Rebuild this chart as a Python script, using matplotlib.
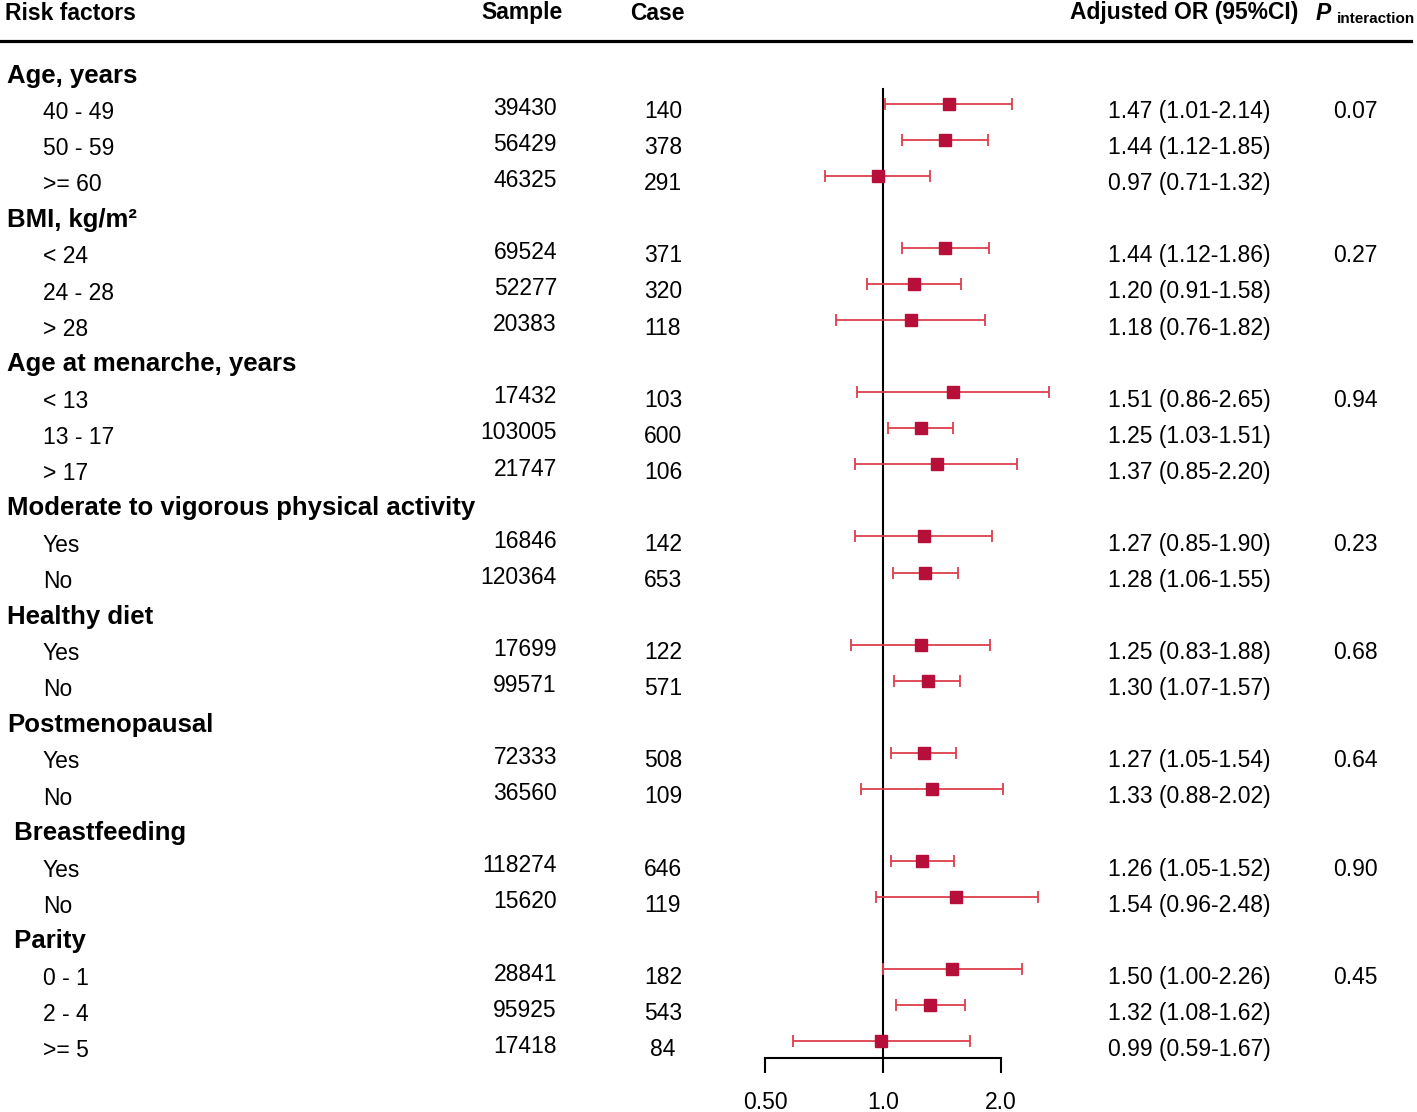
import matplotlib
matplotlib.use("Agg")
import matplotlib.pyplot as plt
from matplotlib.lines import Line2D
from matplotlib.ticker import NullLocator
from matplotlib.transforms import blended_transform_factory

plt.rcParams["font.family"] = ["Liberation Sans", "DejaVu Sans"]

# data
groups = ["Age, years", "BMI, kg/m\u00b2", "Age at menarche, years",
          "Moderate to vigorous physical activity", "Healthy diet",
          "Postmenopausal", " Breastfeeding", " Parity"]
group_sizes = [3, 3, 3, 2, 2, 2, 2, 3]
p_interaction = ["0.07", "0.27", "0.94", "0.23", "0.68", "0.64", "0.90", "0.45"]

sub_labels = ["40 - 49", "50 - 59", ">= 60",
              "< 24", "24 - 28", "> 28",
              "< 13", "13 - 17", "> 17",
              "Yes", "No",
              "Yes", "No",
              "Yes", "No",
              "Yes", "No",
              "0 - 1", "2 - 4", ">= 5"]
samples = [39430, 56429, 46325, 69524, 52277, 20383, 17432, 103005, 21747,
           16846, 120364, 17699, 99571, 72333, 36560, 118274, 15620,
           28841, 95925, 17418]
cases = [140, 378, 291, 371, 320, 118, 103, 600, 106, 142, 653, 122, 571,
         508, 109, 646, 119, 182, 543, 84]
or_est = [1.47, 1.44, 0.97, 1.44, 1.20, 1.18, 1.51, 1.25, 1.37, 1.27, 1.28,
          1.25, 1.30, 1.27, 1.33, 1.26, 1.54, 1.50, 1.32, 0.99]
or_lo = [1.01, 1.12, 0.71, 1.12, 0.91, 0.76, 0.86, 1.03, 0.85, 0.85, 1.06,
         0.83, 1.07, 1.05, 0.88, 1.05, 0.96, 1.00, 1.08, 0.59]
or_hi = [2.14, 1.85, 1.32, 1.86, 1.58, 1.82, 2.65, 1.51, 2.20, 1.90, 1.55,
         1.88, 1.57, 1.54, 2.02, 1.52, 2.48, 2.26, 1.62, 1.67]

W, H = 1417, 1112
y0, dy = 73, 36.07  # first row centre and row pitch in pixels

fig = plt.figure(figsize=(W / 100, H / 100), dpi=100)
ax = fig.add_axes([727 / W, 0, 343 / W, 1])
ax.patch.set_visible(False)
ax.set_xscale("log")
ax.set_xlim(0.4, 3.0)
ax.set_ylim((H - y0) / dy, -y0 / dy)

# row positions
head_rows, item_rows = [], []
r = 0
for n in group_sizes:
    head_rows.append(r)
    item_rows.extend(range(r + 1, r + 1 + n))
    r += n + 1

fx = lambda x: x / W
tr = blended_transform_factory(fig.transFigure, ax.transData)
fs = 16.5
tdy = 0.07  # small downward nudge of the text

# header
fig.text(fx(5), 1 - 13 / H, "Risk factors", fontsize=fs, fontweight="bold", va="center")
fig.text(fx(522), 1 - 13 / H, "Sample", fontsize=fs, fontweight="bold", va="center", ha="center")
fig.text(fx(657), 1 - 13 / H, "Case", fontsize=fs, fontweight="bold", va="center", ha="center")
fig.text(fx(1070), 1 - 13 / H, "Adjusted OR (95%CI)", fontsize=fs, fontweight="bold", va="center")
fig.text(fx(1316), 1 - 13 / H, "P", fontsize=fs, fontweight="bold", fontstyle="italic", va="center")
fig.text(fx(1337), 1 - 19 / H, "interaction", fontsize=11, fontweight="bold", va="center")
fig.add_artist(Line2D([0, fx(1411)], [1 - 41 / H, 1 - 41 / H], color="black", lw=2.3,
                      transform=fig.transFigure))

for g, row, p in zip(groups, head_rows, p_interaction):
    ax.text(fx(7), row + tdy, g, transform=tr, fontsize=18.5, fontweight="bold", va="center")
    ax.text(fx(1355), row + 1 + tdy, p, transform=tr, fontsize=fs, va="center", ha="center")

for i, row in enumerate(item_rows):
    ax.text(fx(43), row + 0.03 + tdy, sub_labels[i], transform=tr, fontsize=fs, va="center")
    ax.text(fx(557), row - 0.09 + tdy, str(samples[i]), transform=tr, fontsize=fs, va="center", ha="right")
    ax.text(fx(663), row + tdy, str(cases[i]), transform=tr, fontsize=fs, va="center", ha="center")
    ax.text(fx(1108), row + tdy, "%.2f (%.2f-%.2f)" % (or_est[i], or_lo[i], or_hi[i]),
            transform=tr, fontsize=fs, va="center")

mrows = [row - 0.15 for row in item_rows]
xerr = [[e - l for e, l in zip(or_est, or_lo)], [h - e for e, h in zip(or_est, or_hi)]]
ax.errorbar(or_est, mrows, xerr=xerr, fmt="none", ecolor="#dd3f4a", elinewidth=1.3,
            capsize=4, capthick=1.3, zorder=2)
ax.plot(or_est, mrows, "s", color="#b50f3a", markersize=8, zorder=3)

# reference line at OR = 1 and axis
ax.plot([1, 1], [(89 - y0) / dy, (1058 - y0) / dy], color="black", lw=1.5, zorder=1)
for s in ["top", "left", "right"]:
    ax.spines[s].set_visible(False)
ax.spines["bottom"].set_position(("data", (1058 - y0) / dy))
ax.spines["bottom"].set_bounds(0.5, 2.0)
ax.spines["bottom"].set_linewidth(1.5)
ax.set_xticks([0.5, 1.0, 2.0])
ax.set_xticklabels(["0.50", "1.0", "2.0"])
ax.xaxis.set_minor_locator(NullLocator())
ax.tick_params(axis="x", direction="out", length=11, width=1.5, labelsize=fs, pad=13)
ax.set_yticks([])

fig.savefig("out.png", dpi=100)
